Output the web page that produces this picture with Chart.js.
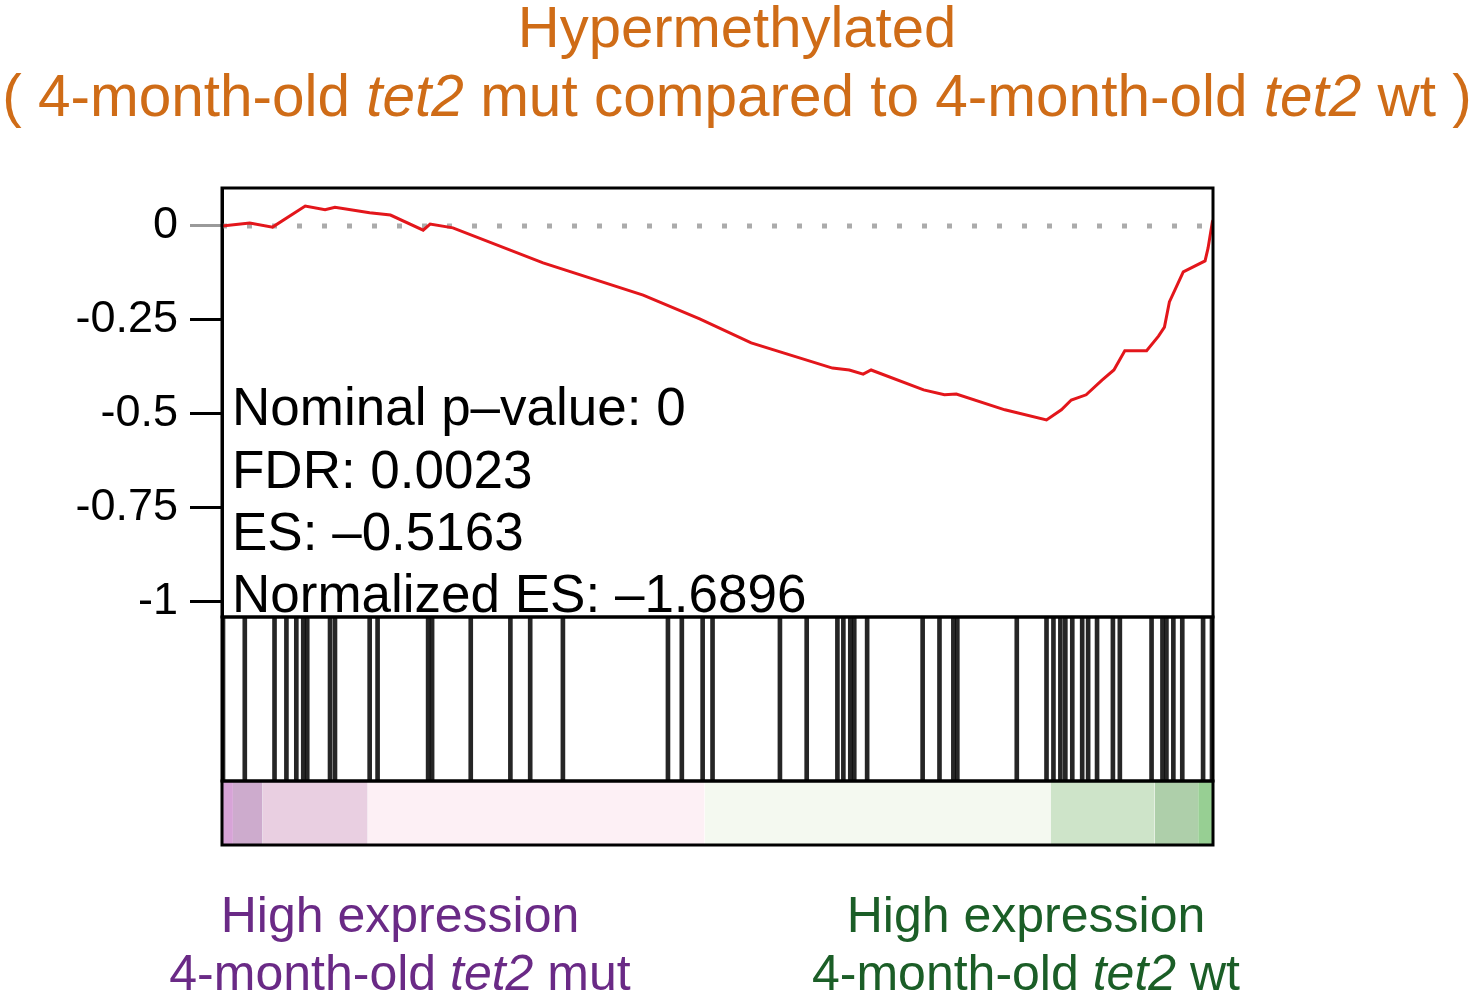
<!DOCTYPE html>
<html>
<head>
<meta charset="utf-8">
<script src="https://cdn.jsdelivr.net/npm/chart.js@4.4.0/dist/chart.umd.min.js"></script>
<style>
  html, body { margin: 0; padding: 0; background: #fff; }
  #wrap { position: relative; width: 1476px; height: 998px; overflow: hidden; font-family: 'Liberation Sans', Arial, sans-serif; }
  #gsea { position: absolute; left: 0; top: 0; }
  .txt { position: absolute; white-space: nowrap; line-height: 1; }
  .orange { color: #cf6c17; }
  .purple { color: #6a2a86; }
  .green { color: #1b5e27; }
</style>
</head>
<body>
<div id="wrap">
  <canvas id="gsea" width="1476" height="998"></canvas>
</div>
<script>
// running enrichment score (rank position 0..1000 along the ranked list)
const esRank = [0, 28, 51, 84, 104, 114, 149, 170, 203, 210, 233, 324, 425, 482, 534, 616, 633, 647, 655,
                708, 729, 741, 790, 832, 847, 857, 872, 888, 900, 911, 933, 945, 951, 956, 970, 992, 995, 999, 1000];
const esScore = [0, 0.008, -0.003, 0.053, 0.043, 0.050, 0.035, 0.029, -0.011, 0.005, -0.005, -0.098, -0.184, -0.247,
                 -0.311, -0.378, -0.383, -0.394, -0.383, -0.436, -0.449, -0.447, -0.489, -0.516, -0.489, -0.463,
                 -0.449, -0.410, -0.383, -0.332, -0.332, -0.293, -0.269, -0.202, -0.122, -0.093, -0.059, 0.005, 0];

// positions of the gene set members in the ranked list
const hitRanks = [1, 23, 53, 65, 75, 82, 86, 109, 114, 149, 157, 208, 212, 251, 291, 311, 344, 450, 464, 485, 495,
                  563, 590, 621, 627, 634, 638, 651, 707, 724, 738, 742, 802, 832, 839, 846, 851, 858, 868, 874,
                  883, 899, 906, 938, 949, 953, 960, 969, 990, 999];

// ranked list metric colour bar: segment edges
const barEdges = [0, 11, 41, 147, 487, 836, 941, 985, 1000];
const barColors = ['#d7a3d7', '#cdabcd', '#e9cfe1', '#fdf0f5', '#f4f9f0', '#cee4c9', '#aecfaa', '#97cf93'];

const yTicks = [0, -0.25, -0.5, -0.75, -1];

const FONT = "'Liberation Sans', Arial, sans-serif";

// texts (kept in html so the italic gene name can be mixed in)
function place(html, cls, x, baseline, size, align) {
  const d = document.createElement('div');
  d.className = 'txt ' + cls;
  d.innerHTML = html;
  d.style.fontSize = size + 'px';
  d.style.top = (baseline - 0.8465 * size) + 'px';
  if (align === 'center') {
    d.style.left = (x - 1500) + 'px';
    d.style.width = '3000px';
    d.style.textAlign = 'center';
  } else {
    d.style.left = x + 'px';
  }
  document.getElementById('wrap').appendChild(d);
}

place('Hypermethylated', 'orange', 737, 47, 58, 'center');
place('( 4-month-old <i>tet2</i> mut compared to 4-month-old <i>tet2</i> wt )', 'orange', 737, 117, 58.5, 'center');

place('Nominal p\u2013value: 0', 'black', 232, 425, 53);
place('FDR: 0.0023', 'black', 232, 488, 53);
place('ES: \u20130.5163', 'black', 232, 550, 53);
place('Normalized ES: \u20131.6896', 'black', 232, 612, 53);

place('High expression', 'purple', 400, 932, 50, 'center');
place('4-month-old <i>tet2</i> mut', 'purple', 400, 990, 50, 'center');
place('High expression', 'green', 1026, 932, 50, 'center');
place('4-month-old <i>tet2</i> wt', 'green', 1026, 990, 50, 'center');

const esPoints = esRank.map((r, i) => ({x: r, y: esScore[i]}));

const datasets = [
  {
    type: 'line',
    data: esPoints,
    yAxisID: 'y',
    borderColor: '#e3161b',
    borderWidth: 3,
    pointRadius: 0,
    tension: 0,
    fill: false,
  },
  {
    type: 'line',
    data: [{x: 0, y: 0}, {x: 1000, y: 0}],
    yAxisID: 'y',
    borderColor: '#ababab',
    borderWidth: 5,
    borderDash: [5, 20],
    pointRadius: 0,
    fill: false,
  },
  {
    type: 'bar',
    data: hitRanks.map(h => ({x: h, y: [0, 1]})),
    yAxisID: 'yHits',
    backgroundColor: 'rgba(0, 0, 0, 0.85)',
    borderWidth: 0,
    barThickness: 4,
  },
];

for (let i = 0; i < barColors.length; i++) {
  datasets.push({
    type: 'line',
    data: [{x: barEdges[i], y: 1}, {x: barEdges[i + 1], y: 1}],
    yAxisID: 'yBar',
    borderColor: 'transparent',
    backgroundColor: barColors[i],
    pointRadius: 0,
    fill: 'origin',
  });
}

// box around each panel
const frame = {
  id: 'frame',
  afterDraw(chart) {
    const {ctx, chartArea} = chart;
    ctx.save();
    ctx.strokeStyle = '#000';
    ctx.lineWidth = 3;
    ['y', 'yHits', 'yBar'].forEach(id => {
      const s = chart.scales[id];
      ctx.strokeRect(chartArea.left, s.top, chartArea.right - chartArea.left, s.bottom - s.top);
    });
    ctx.restore();
  }
};

const fixWidth = scale => { scale.width = 222; };

const gsea = new Chart(document.getElementById('gsea'), {
  type: 'line',
  data: {datasets: datasets},
  plugins: [frame],
  options: {
    responsive: false,
    animation: false,
    layout: {padding: {top: 188, right: 263, bottom: 153, left: 0}},
    plugins: {
      legend: {display: false},
      tooltip: {enabled: false},
    },
    scales: {
      x: {
        type: 'linear',
        min: 0,
        max: 1000,
        offset: false,
        display: false,
        grid: {offset: false},
      },
      y: {
        type: 'linear',
        stack: 'gsea',
        stackWeight: 429,
        weight: 3,
        min: -1.04,
        max: 0.101,
        afterBuildTicks: scale => { scale.ticks = yTicks.map(v => ({value: v})); },
        afterFit: fixWidth,
        ticks: {
          color: '#000',
          padding: 12,
          autoSkip: false,
          font: {family: FONT, size: 45},
          callback: v => String(v),
        },
        grid: {
          drawOnChartArea: false,
          tickLength: 32,
          tickWidth: 3,
          tickColor: ctx => (ctx.tick && ctx.tick.value === 0 ? '#9a9a9a' : '#000'),
        },
        border: {display: true, color: '#000', width: 3},
      },
      yHits: {
        type: 'linear',
        stack: 'gsea',
        stackWeight: 164,
        weight: 2,
        min: 0,
        max: 1,
        afterFit: fixWidth,
        ticks: {display: false},
        grid: {display: false},
        border: {display: true, color: '#000', width: 3},
      },
      yBar: {
        type: 'linear',
        stack: 'gsea',
        stackWeight: 64,
        weight: 1,
        min: 0,
        max: 1,
        afterFit: fixWidth,
        ticks: {display: false},
        grid: {display: false},
        border: {display: true, color: '#000', width: 3},
      },
    },
  },
});
</script>
</body>
</html>
